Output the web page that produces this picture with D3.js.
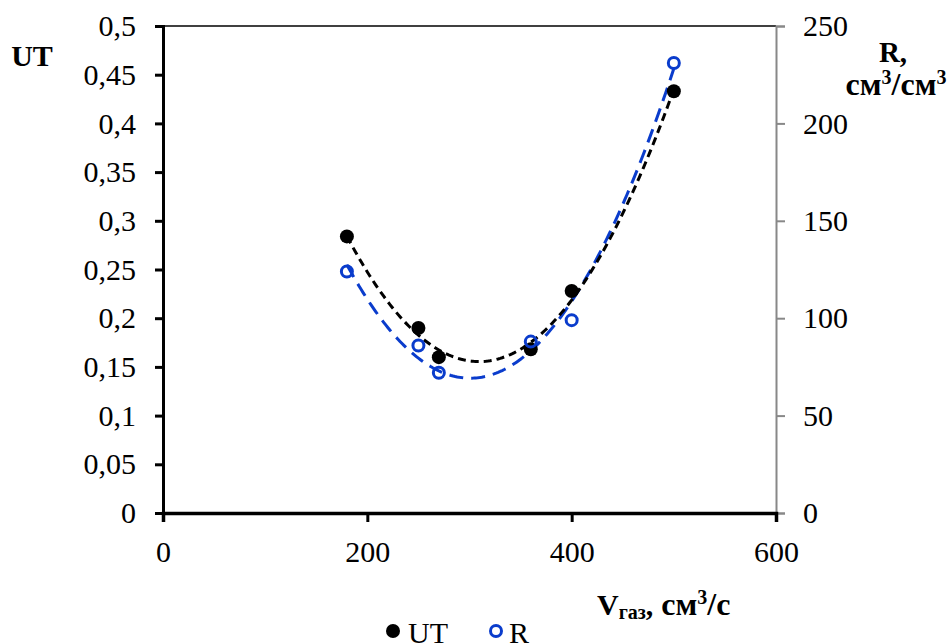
<!DOCTYPE html>
<html><head><meta charset="utf-8">
<script src="https://cdn.jsdelivr.net/npm/d3@7"></script>
<style>body{margin:0;background:#fff}</style>
</head><body>
<svg id="c" width="949" height="644"></svg>
<script>
const vGas = [180, 250, 270, 360, 400, 500];
const utValues = [0.284, 0.19, 0.16, 0.168, 0.228, 0.433];
const rValues = [124, 86, 72, 88, 99, 231];
const xTicks = [0, 200, 400, 600];
const leftTicks = [0,0.05,0.1,0.15,0.2,0.25,0.3,0.35,0.4,0.45,0.5];
const rightTicks = [0,50,100,150,200,250];

const svg = d3.select("#c");
const L=163, R=776, T=26, B=513;
const x = d3.scaleLinear().domain([0,600]).range([L,R]);
const yL = d3.scaleLinear().domain([0,0.5]).range([B,T]);
const yR = d3.scaleLinear().domain([0,250]).range([B,T]);
const font = "'Liberation Serif','Times New Roman',serif";
const blue = "#0a3ccc";

function quadFit(xs, ys){
  let s=[0,0,0,0,0], t=[0,0,0];
  xs.forEach((xv,i)=>{ for(let k=0;k<5;k++) s[k]+=Math.pow(xv,k); for(let k=0;k<3;k++) t[k]+=ys[i]*Math.pow(xv,k); });
  const A=[[s[0],s[1],s[2],t[0]],[s[1],s[2],s[3],t[1]],[s[2],s[3],s[4],t[2]]];
  for(let i=0;i<3;i++){ for(let j=i+1;j<3;j++){ const f=A[j][i]/A[i][i]; for(let k=i;k<4;k++) A[j][k]-=f*A[i][k]; } }
  const c=[0,0,0];
  for(let i=2;i>=0;i--){ let v=A[i][3]; for(let k=i+1;k<3;k++) v-=A[i][k]*c[k]; c[i]=v/A[i][i]; }
  return xv=>c[0]+c[1]*xv+c[2]*xv*xv;
}
const fUT = quadFit(vGas, utValues), fR = quadFit(vGas, rValues);
const xs = d3.range(180, 500.5, 2);

// trendlines
svg.append("path").attr("d", d3.line().x(d=>x(d)).y(d=>yR(fR(d)))(xs))
  .attr("fill","none").attr("stroke",blue).attr("stroke-width",3).attr("stroke-dasharray","14,8");
svg.append("path").attr("d", d3.line().x(d=>x(d)).y(d=>yL(fUT(d)))(xs))
  .attr("fill","none").attr("stroke","#000").attr("stroke-width",3).attr("stroke-dasharray","8,5");

// markers
svg.selectAll(".ut").data(vGas).enter().append("circle")
  .attr("cx",d=>x(d)).attr("cy",(d,i)=>yL(utValues[i])).attr("r",7).attr("fill","#000");
svg.selectAll(".r").data(vGas).enter().append("circle")
  .attr("cx",d=>x(d)).attr("cy",(d,i)=>yR(rValues[i])).attr("r",5.5).attr("fill","none").attr("stroke",blue).attr("stroke-width",3);

// top border
svg.append("line").attr("x1",L).attr("x2",R).attr("y1",T).attr("y2",T).attr("stroke","#000").attr("stroke-width",1.5);

// axes
const gL = svg.append("g").attr("transform",`translate(${L},0)`)
  .call(d3.axisLeft(yL).tickValues(leftTicks).tickSize(8).tickPadding(19).tickFormat(d=>String(d).replace(".",",")));
gL.select(".domain").attr("stroke-width",3);
gL.selectAll(".tick line").attr("stroke-width",3);
const gR = svg.append("g").attr("transform",`translate(${R},0)`)
  .call(d3.axisRight(yR).tickValues(rightTicks).tickSize(9).tickPadding(18));
gR.select(".domain").attr("stroke","#888").attr("stroke-width",2);
gR.selectAll(".tick line").attr("stroke","#888").attr("stroke-width",2);
const gB = svg.append("g").attr("transform",`translate(0,${B})`)
  .call(d3.axisBottom(x).tickValues(xTicks).tickSize(9).tickPadding(19));
gB.select(".domain").attr("stroke-width",3.5);
gB.selectAll(".tick line").attr("stroke-width",3);
[gL,gR,gB].forEach(g=>g.selectAll("text").attr("font-family",font).attr("font-size",30).attr("fill","#000"));
gB.selectAll(".tick text").attr("dy","0.71em");

// axis titles
svg.append("text").attr("x",32).attr("y",66).attr("text-anchor","middle").attr("font-family",font)
  .attr("font-weight","bold").attr("font-size",30).text("UT");
svg.append("text").attr("x",893).attr("y",62).attr("text-anchor","middle").attr("font-family",font)
  .attr("font-weight","bold").attr("font-size",29).text("R,");
const t2 = svg.append("text").attr("x",896).attr("y",95).attr("text-anchor","middle").attr("font-family",font)
  .attr("font-weight","bold").attr("font-size",32);
t2.append("tspan").text("см");
t2.append("tspan").attr("dy",-11).attr("font-size",20).text("3");
t2.append("tspan").attr("dy",11).text("/см");
t2.append("tspan").attr("dy",-11).attr("font-size",20).text("3");
const xt = svg.append("text").attr("x",597).attr("y",615).attr("font-family",font)
  .attr("font-weight","bold").attr("font-size",30);
xt.append("tspan").text("V");
xt.append("tspan").attr("font-size",20).attr("dy",4).text("газ");
xt.append("tspan").attr("dy",-4).text(",");
xt.append("tspan").attr("font-size",32).text(" см");
xt.append("tspan").attr("dy",-11).attr("font-size",20).text("3");
xt.append("tspan").attr("dy",11).attr("font-size",32).text("/с");

// legend
const lg = svg.append("g");
lg.append("circle").attr("cx",393).attr("cy",631).attr("r",7).attr("fill","#000");
lg.append("text").attr("x",408).attr("y",643).attr("font-family",font).attr("font-size",30).text("UT");
lg.append("circle").attr("cx",496).attr("cy",631).attr("r",5.5).attr("fill","none").attr("stroke",blue).attr("stroke-width",3);
lg.append("text").attr("x",509).attr("y",643).attr("font-family",font).attr("font-size",30).text("R");
</script>
</body></html>
